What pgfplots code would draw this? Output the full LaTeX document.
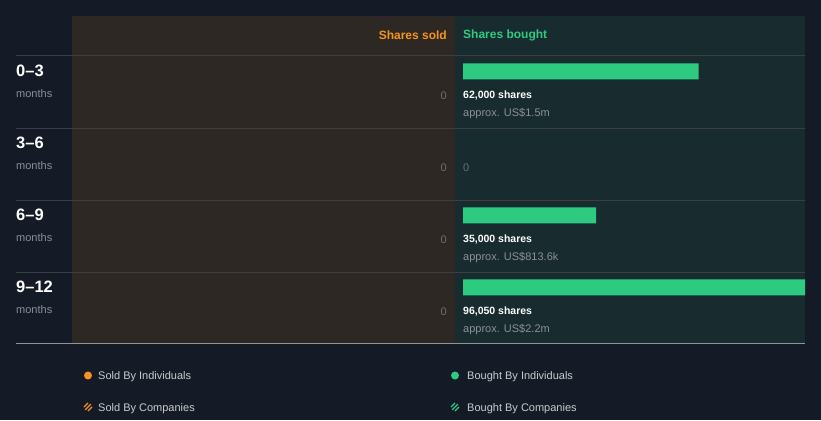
\documentclass[border=0pt]{standalone}
\usepackage{fontspec}
\setmainfont{Liberation Sans}
\usepackage{pgfplots}
\pgfplotsset{compat=1.18}
\definecolor{bg}{HTML}{151B26}
\definecolor{soldbg}{HTML}{2D2823}
\definecolor{boughtbg}{HTML}{182B2F}
\definecolor{sgreen}{HTML}{2DCB80}
\definecolor{sorange}{HTML}{F7941D}
\definecolor{linec}{HTML}{3B3F43}
\definecolor{bottomline}{HTML}{8E949A}
\definecolor{zerotxt}{HTML}{6B6F73}
\definecolor{subtxt}{HTML}{8A9096}
\definecolor{legtxt}{HTML}{C9CBCE}
\begin{document}
\begin{tikzpicture}[font=\fontsize{11}{13}\selectfont]
\begin{axis}[name=frame, scale only axis, width=821pt, height=420pt,
  xmin=0, xmax=821, ymin=0, ymax=420, y dir=reverse, axis lines=none, clip=false]
\fill[bg] (axis cs:0,0) rectangle (axis cs:821,420);
\fill[soldbg] (axis cs:72,16) rectangle (axis cs:455,343);
\fill[boughtbg] (axis cs:455,16) rectangle (axis cs:805,343);
\draw[linec, line width=1pt] (axis cs:16,56) -- (axis cs:805,56);
\draw[linec, line width=1pt] (axis cs:16,128) -- (axis cs:805,128);
\draw[linec, line width=1pt] (axis cs:16,200) -- (axis cs:805,200);
\draw[linec, line width=1pt] (axis cs:16,272) -- (axis cs:805,272);
\draw[bottomline, line width=1pt] (axis cs:16,343) -- (axis cs:805,343);
% headers
\node[anchor=east, text=sorange, font=\fontsize{12}{14}\selectfont\bfseries, inner sep=0pt] at (axis cs:447,35.3) {Shares sold};
\node[anchor=west, text=sgreen, font=\fontsize{12}{14}\selectfont\bfseries, inner sep=0pt] at (axis cs:463,35.3) {Shares bought};
% row labels
\node[anchor=west, text=white, font=\fontsize{16.5}{18}\selectfont\bfseries, inner sep=0pt] at (axis cs:16,71.3) {0–3};
\node[anchor=west, text=subtxt, inner sep=0pt] at (axis cs:16,93.5) {months};
\node[anchor=west, text=white, font=\fontsize{16.5}{18}\selectfont\bfseries, inner sep=0pt] at (axis cs:16,143.3) {3–6};
\node[anchor=west, text=subtxt, inner sep=0pt] at (axis cs:16,165.5) {months};
\node[anchor=west, text=white, font=\fontsize{16.5}{18}\selectfont\bfseries, inner sep=0pt] at (axis cs:16,215.3) {6–9};
\node[anchor=west, text=subtxt, inner sep=0pt] at (axis cs:16,237.5) {months};
\node[anchor=west, text=white, font=\fontsize{16.5}{18}\selectfont\bfseries, inner sep=0pt] at (axis cs:16,287.3) {9–12};
\node[anchor=west, text=subtxt, inner sep=0pt] at (axis cs:16,309.5) {months};
% sold zeros
\node[anchor=east, text=zerotxt, inner sep=0pt] at (axis cs:447,95.8) {0};
\node[anchor=east, text=zerotxt, inner sep=0pt] at (axis cs:447,167.8) {0};
\node[anchor=east, text=zerotxt, inner sep=0pt] at (axis cs:447,239.8) {0};
\node[anchor=east, text=zerotxt, inner sep=0pt] at (axis cs:447,311.8) {0};
% bought labels
\node[anchor=west, text=white, font=\fontsize{10.5}{12}\selectfont\bfseries, inner sep=0pt] at (axis cs:463,95.8) {62,000 shares};
\node[anchor=west, text=subtxt, inner sep=0pt] at (axis cs:463,113.8) {approx. US\$1.5m};
\node[anchor=west, text=zerotxt, inner sep=0pt] at (axis cs:463,167.8) {0};
\node[anchor=west, text=white, font=\fontsize{10.5}{12}\selectfont\bfseries, inner sep=0pt] at (axis cs:463,239.8) {35,000 shares};
\node[anchor=west, text=subtxt, inner sep=0pt] at (axis cs:463,257.8) {approx. US\$813.6k};
\node[anchor=west, text=white, font=\fontsize{10.5}{12}\selectfont\bfseries, inner sep=0pt] at (axis cs:463,311.8) {96,050 shares};
\node[anchor=west, text=subtxt, inner sep=0pt] at (axis cs:463,329.8) {approx. US\$2.2m};
% legend
\fill[sorange] (axis cs:88,375.5) circle[radius=4pt];
\node[anchor=west, text=legtxt, inner sep=0pt] at (axis cs:98,377) {Sold By Individuals};
\fill[sgreen] (axis cs:455,375.5) circle[radius=4pt];
\node[anchor=west, text=legtxt, inner sep=0pt] at (axis cs:467,377) {Bought By Individuals};
\draw[sorange, line width=1.2pt] (axis cs:85.17,409.83) -- (axis cs:90.83,404.17);
\draw[sorange, line width=1.2pt] (axis cs:87.96,411) -- (axis cs:92,406.96);
\draw[sorange, line width=1.2pt] (axis cs:84,407.04) -- (axis cs:88.04,403);
\node[anchor=west, text=legtxt, inner sep=0pt] at (axis cs:98,409) {Sold By Companies};
\draw[sgreen, line width=1.2pt] (axis cs:452.17,409.83) -- (axis cs:457.83,404.17);
\draw[sgreen, line width=1.2pt] (axis cs:454.96,411) -- (axis cs:459,406.96);
\draw[sgreen, line width=1.2pt] (axis cs:451,407.04) -- (axis cs:455.04,403);
\node[anchor=west, text=legtxt, inner sep=0pt] at (axis cs:467,409) {Bought By Companies};
\end{axis}
\begin{axis}[at={(463pt,384.5pt)}, anchor=north west, scale only axis,
  width=342pt, height=288pt, xmin=0, xmax=90000, ymin=-0.5, ymax=3.5,
  y dir=reverse, axis lines=none, xbar, bar width=16pt]
\addplot[fill=sgreen, draw=none, restrict x to domain=1:1000000] coordinates {(62000,0) (0,1) (35000,2) (96050,3)};
\end{axis}
\end{tikzpicture}
\end{document}
